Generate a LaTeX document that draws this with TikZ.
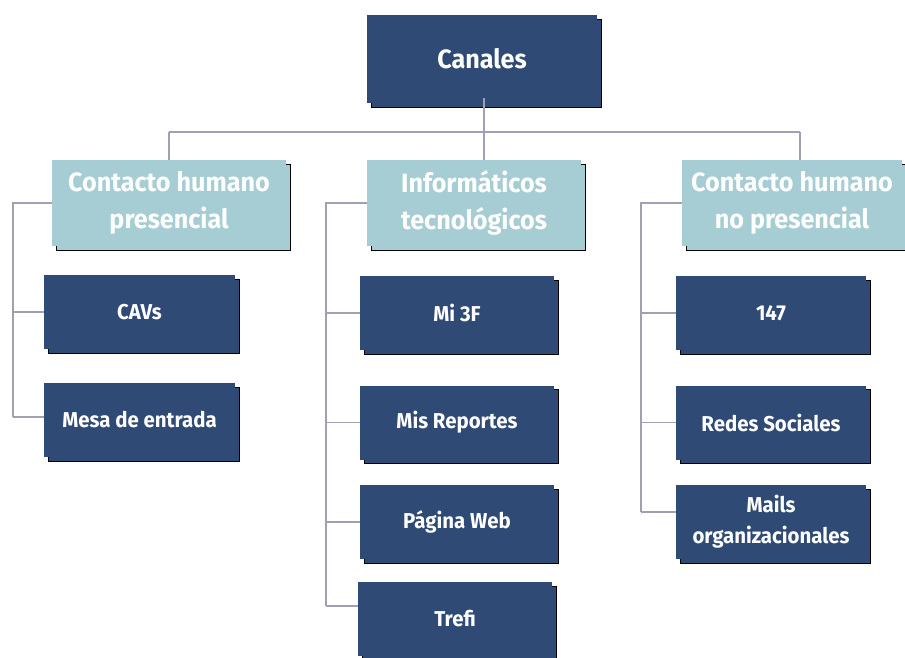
\documentclass[tikz,border=0pt]{standalone}
\usepackage{fontspec}
\newfontfamily\cond[FakeStretch=0.95]{Fira Sans}
\usetikzlibrary{shadows,calc}
\definecolor{navy}{RGB}{46,74,117}
\definecolor{teal}{RGB}{165,205,211}
\definecolor{conn}{RGB}{160,160,178}
\tikzset{
  dbox/.style={fill=navy, text=white, inner sep=0pt, align=center,
    copy shadow={shadow xshift=4pt, shadow yshift=-4pt, fill=navy},
    font=\cond\bfseries\fontsize{21.5}{31}\selectfont},
  lbox/.style={fill=teal, text=white, inner sep=0pt, align=center,
    copy shadow={shadow xshift=4pt, shadow yshift=-4pt, fill=teal},
    font=\cond\bfseries\fontsize{26.5}{37}\selectfont},
  rootbox/.style={dbox, font=\cond\bfseries\fontsize{26.5}{30}\selectfont},
  conline/.style={draw=conn, line width=1.6pt}
}
\begin{document}
\begin{tikzpicture}[x=1pt,y=-1pt]
\useasboundingbox (0,0) rectangle (905,658);
\clip (0,0) rectangle (905,658);
\fill[white] (0,0) rectangle (905,658);
% root
\node[rootbox, minimum width=230pt, minimum height=88pt] (root) at (482,59) {Canales};
% level 2
\node[lbox, minimum width=234pt, minimum height=86pt] (L) at (169,203) {Contacto humano\\presencial};
\node[lbox, minimum width=214pt, minimum height=86pt] (M) at (474,203) {Informáticos\\tecnológicos};
\node[lbox, minimum width=220pt, minimum height=86pt] (R) at (792,203) {Contacto humano\\no presencial};
% left children
\node[dbox, minimum width=191pt, minimum height=74pt] (cav) at (139.5,312) {CAVs};
\node[dbox, minimum width=191pt, minimum height=74pt] (mesa) at (139.5,420) {Mesa de entrada};
% middle children
\node[dbox, minimum width=194pt, minimum height=74pt] (mi) at (457,313) {Mi 3F};
\node[dbox, minimum width=194pt, minimum height=74pt] (mis) at (457,422.5) {Mis Reportes};
\node[dbox, minimum width=194pt, minimum height=74pt] (pag) at (457,522) {Página Web};
\node[dbox, minimum width=194pt, minimum height=74pt] (tre) at (455,619) {Trefi};
% right children
\node[dbox, minimum width=190pt, minimum height=74pt] (n147) at (771,313) {147};
\node[dbox, minimum width=190pt, minimum height=74pt] (red) at (771,422.5) {Redes Sociales};
\node[dbox, minimum width=190pt, minimum height=74pt] (mai) at (771,522) {Mails\\organizacionales};
% spine coordinates
\coordinate (bus) at (0,132);
\coordinate (lsp) at (13,0);
\coordinate (msp) at (326,0);
\coordinate (rsp) at (641,0);
% top connectors
\draw[conline] ([xshift=2pt,yshift=5pt]root.south) -- ([xshift=2pt]root.south |- M.north);
\draw[conline] (L.north |- bus) -- ([xshift=8pt]R.north |- bus);
\draw[conline] (L.north |- bus) -- (L.north);
\draw[conline] ([xshift=8pt]R.north |- bus) -- ([xshift=8pt]R.north);
% left branch
\draw[conline] (L.west) -- (L.west -| lsp) -- ([yshift=3pt]mesa.west -| lsp);
\draw[conline] (cav.west -| lsp) -- (cav.west);
\draw[conline] ([yshift=3pt]mesa.west -| lsp) -- ([yshift=3pt]mesa.west);
% middle branch
\draw[conline] (M.west) -- (M.west -| msp) -- ([yshift=13pt]tre.west -| msp);
\draw[conline] (mi.west -| msp) -- (mi.west);
\draw[conline] (mis.west -| msp) -- (mis.west);
\draw[conline] (pag.west -| msp) -- (pag.west);
\draw[conline] ([yshift=13pt]tre.west -| msp) -- ([yshift=13pt]tre.west);
% right branch
\draw[conline] (R.west) -- (R.west -| rsp) -- ([yshift=10pt]mai.west -| rsp);
\draw[conline] (n147.west -| rsp) -- (n147.west);
\draw[conline] (red.west -| rsp) -- (red.west);
\draw[conline] ([yshift=10pt]mai.west -| rsp) -- ([yshift=10pt]mai.west);
\end{tikzpicture}
\end{document}
